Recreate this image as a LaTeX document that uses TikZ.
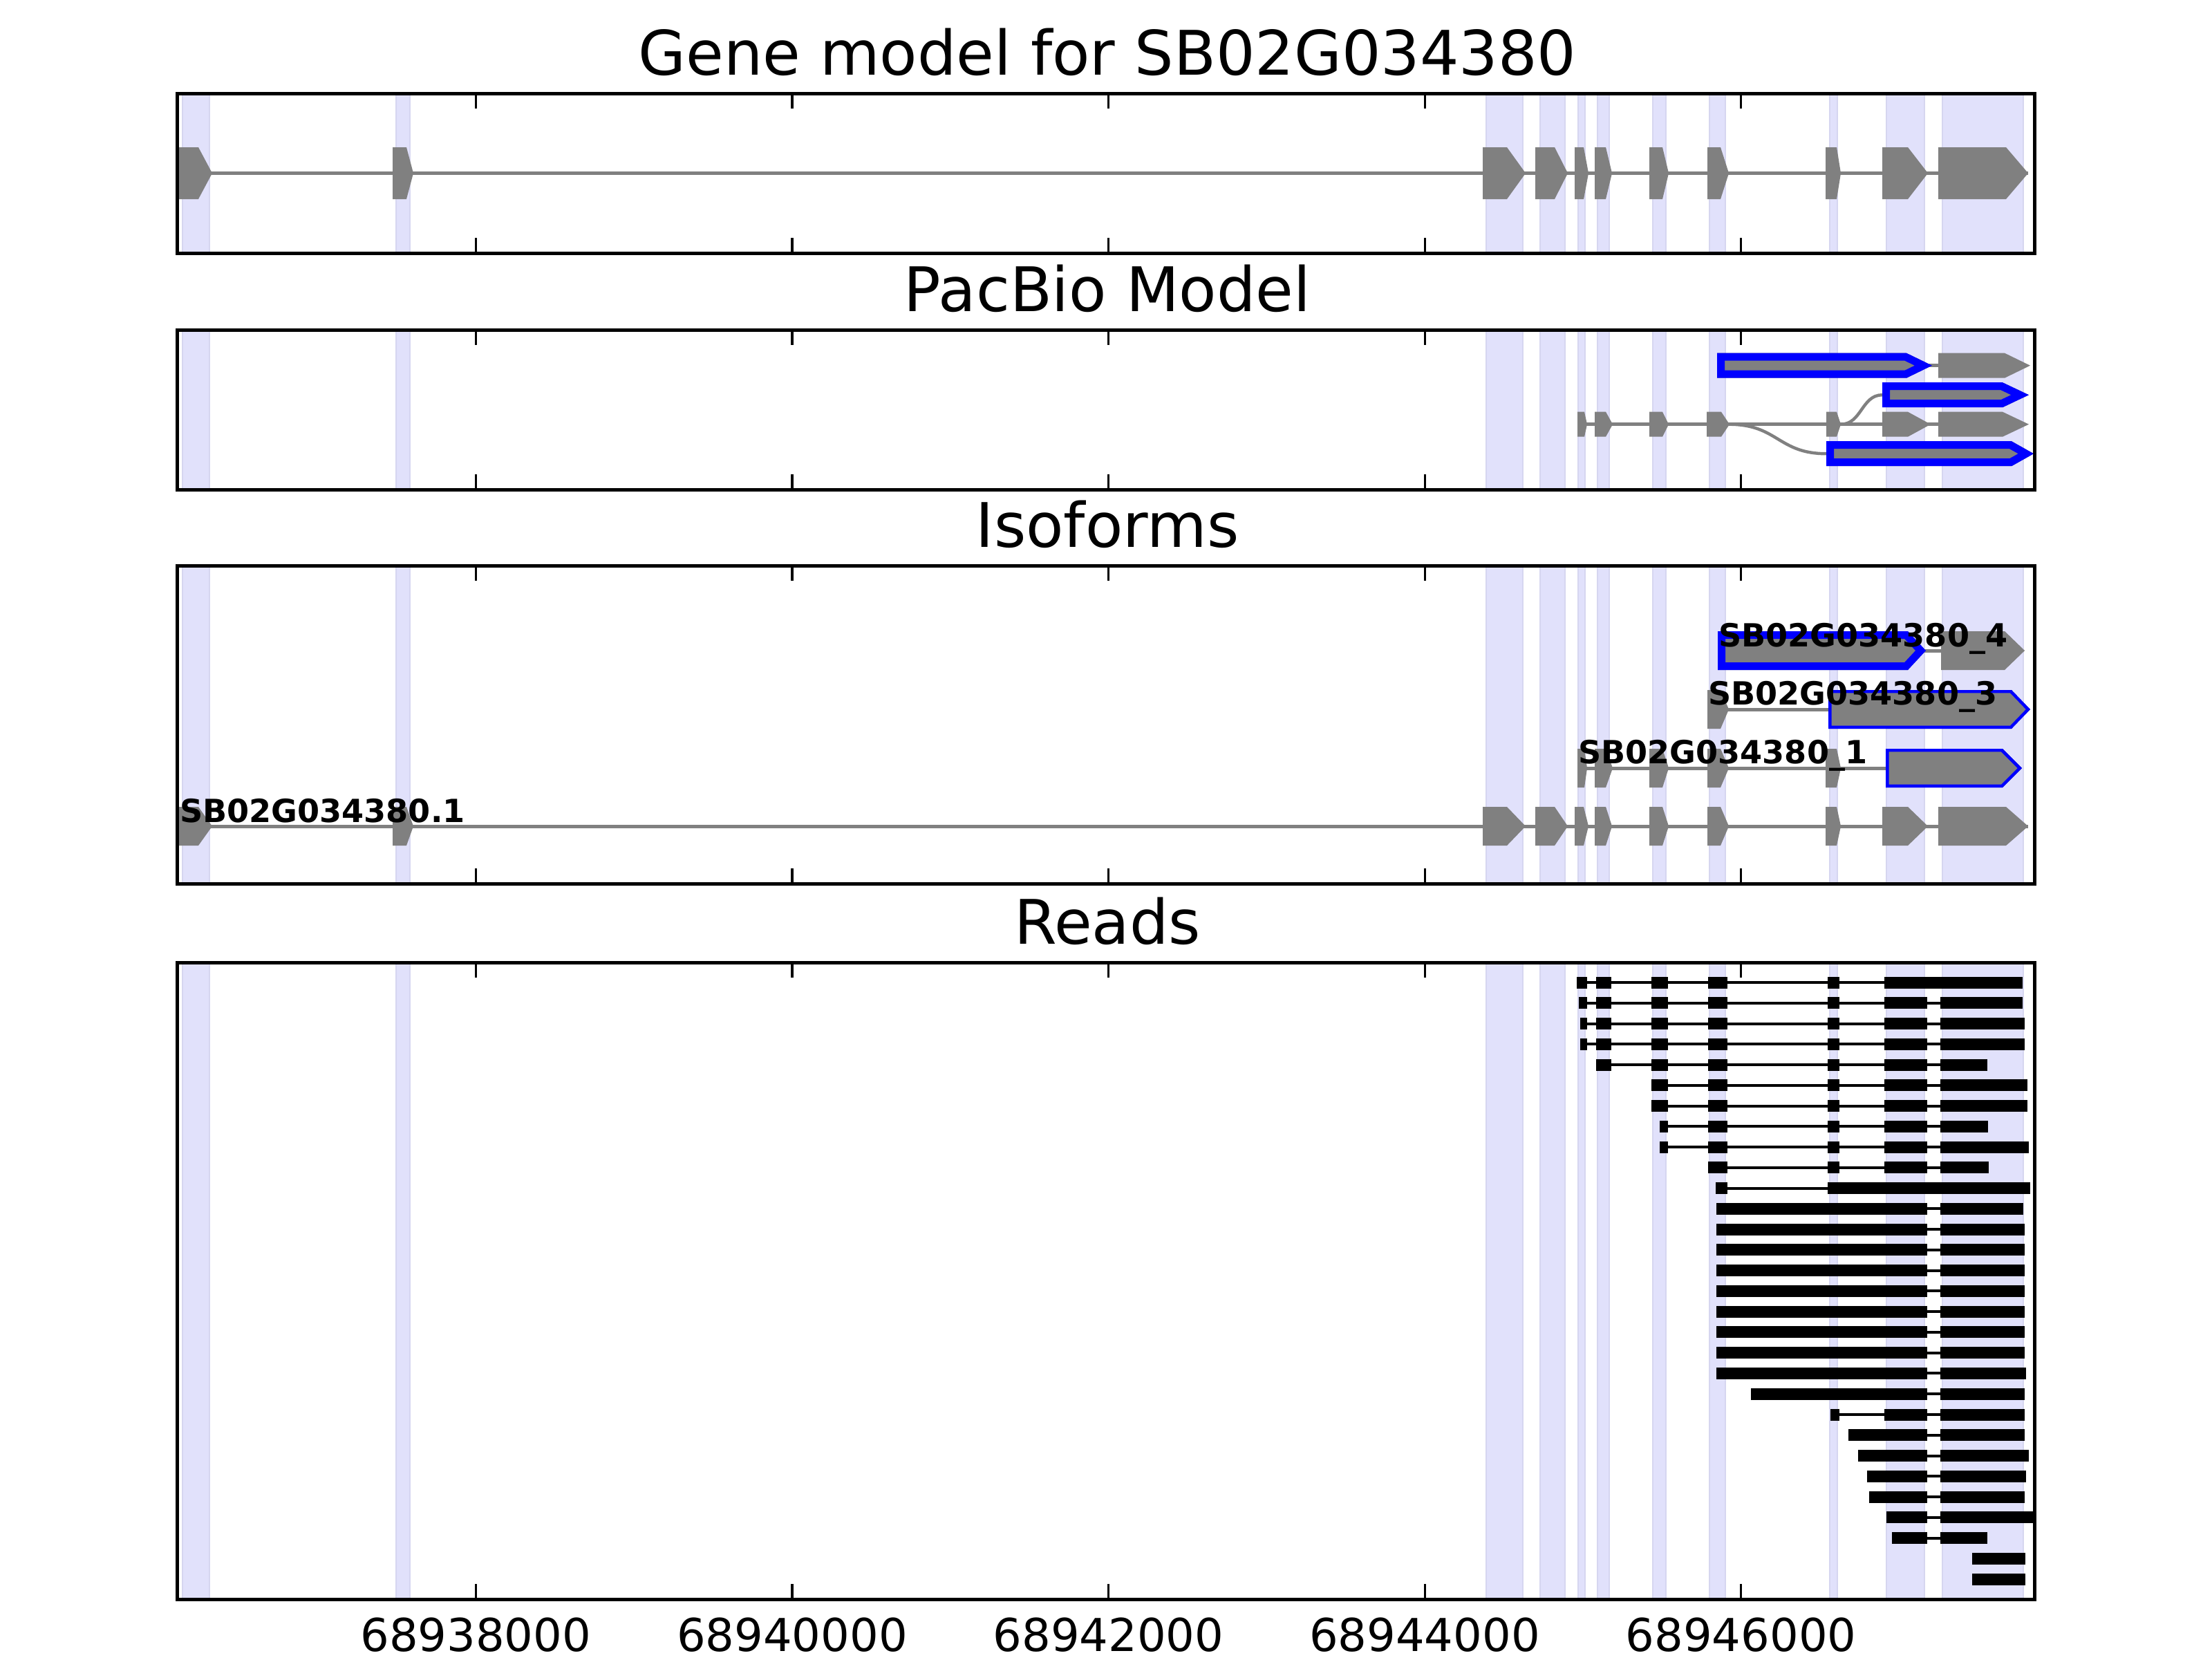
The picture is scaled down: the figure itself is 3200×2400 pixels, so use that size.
\documentclass[tikz,border=0pt]{standalone}
\usepackage{fontspec}
\setmainfont{DejaVu Sans}
\definecolor{band}{RGB}{225,225,251}
\definecolor{bandedge}{RGB}{214,214,240}
\definecolor{exgray}{RGB}{128,128,128}
\tikzset{
  bandstyle/.style={fill=band, draw=bandedge, line width=0.4pt},
  framestyle/.style={draw=black, line width=0.9pt},
  tickmark/.style={draw=black, line width=0.55pt},
  intronln/.style={draw=exgray, line width=#1},
  curveln/.style={draw=exgray, line width=0.8pt},
  readln/.style={draw=black, line width=0.72pt},
  titletext/.style={anchor=base, inner sep=0pt, font=\fontsize{16}{19}\selectfont},
  ticktext/.style={anchor=base, inner sep=0pt, font=\fontsize{11.8}{14}\selectfont},
  isolabel/.style={anchor=base west, inner sep=0pt, font=\bfseries\fontsize{8.3}{10}\selectfont},
}
% gray exon: x0, x1, xtip, cy, half-height
\newcommand{\gex}[5]{\fill[exgray] (#1,#4-#5) -- (#2,#4-#5) -- (#3,#4) -- (#2,#4+#5) -- (#1,#4+#5) -- cycle;}
% blue-outlined exon: x0, x1, xtip, cy, half-height, doubled stroke width
\newcommand{\bex}[6]{%
  \begin{scope}
    \clip (#1,#4-#5) -- (#2,#4-#5) -- (#3,#4) -- (#2,#4+#5) -- (#1,#4+#5) -- cycle;
    \fill[exgray] (#1,#4-#5) -- (#2,#4-#5) -- (#3,#4) -- (#2,#4+#5) -- (#1,#4+#5) -- cycle;
    \draw[blue, line width=#6, line join=miter] (#1,#4-#5) -- (#2,#4-#5) -- (#3,#4) -- (#2,#4+#5) -- (#1,#4+#5) -- cycle;
  \end{scope}}
% full gene model: cy, half-height, intron width
\newcommand{\genemodel}[3]{%
  \draw[intronln=#3] (259,#1) -- (2934,#1);
  \foreach \p/\q/\s in {259/287/307, 568/588/598, 2145/2180/2207, 2221/2249/2268, 2278/2291/2298, 2307/2323/2332, 2386/2405/2414, 2470/2489/2501, 2641/2657/2663, 2723/2760/2789, 2804/2902/2934}
    {\gex{\p}{\q}{\s}{#1}{#2}}}
% read: row index, line start, line end, blocks
\newcommand{\rd}[4]{%
  \pgfmathsetmacro\ry{1421+(#1-1)*29.76}
  \draw[readln] (#2,\ry) -- (#3,\ry);
  \foreach \p/\q in {#4} {\fill[black] (\p,\ry-8.5) rectangle (\q,\ry+8.5);}}
\begin{document}
\begin{tikzpicture}[x=0.18pt,y=-0.18pt]
\useasboundingbox (0,0) rectangle (3200,2400);
\fill[white] (0,0) rectangle (3200,2400);

% shaded exon bands
\foreach \t/\b in {135/366, 477/708, 818/1278, 1392/2313} {
  \foreach \l/\r in {264/303, 573/593, 2150/2203, 2228/2264, 2283/2293, 2311/2328, 2391/2410, 2473/2496, 2647/2658, 2729/2784, 2810/2927}
    {\filldraw[bandstyle] (\l,\t) rectangle (\r,\b);}
}

% ---- Panel 1: gene model
\genemodel{250.5}{37.5}{1.05pt}

% ---- Panel 2: PacBio model
\draw[intronln=0.85pt] (2282,613.7) -- (2804,613.7);
\draw[intronln=0.85pt] (2758,528.7) -- (2804,528.7);
\draw[curveln] (2501,613.7) .. controls (2572,613.7) and (2572,656.2) .. (2642,656.2);
\draw[curveln] (2663,613.7) .. controls (2693,613.7) and (2693,571.2) .. (2723,571.2);
\foreach \p/\q/\s in {2282/2292/2296, 2307/2323/2333, 2386/2405/2414, 2469/2490/2502, 2642/2657/2663, 2723/2760/2793, 2804/2897/2935}
  {\gex{\p}{\q}{\s}{613.7}{18}}
\gex{2804}{2900}{2937}{528.7}{18}
\bex{2484}{2758}{2795}{528.7}{18}{3.96pt}
\bex{2723}{2897}{2935}{571.2}{18}{3.96pt}
\bex{2642}{2910}{2942}{656.2}{18}{3.96pt}

% ---- Panel 3: isoforms
\draw[intronln=0.9pt] (2760,941) -- (2808,941);
\bex{2485}{2760}{2786}{941}{28}{3.96pt}
\gex{2808}{2900}{2929}{941}{28}
\draw[intronln=0.9pt] (2470,1026) -- (2645,1026);
\gex{2470}{2489}{2501}{1026}{28}
\bex{2645}{2910}{2937}{1026}{28}{1.6pt}
\draw[intronln=0.9pt] (2282,1111) -- (2728,1111);
\foreach \p/\q/\s in {2282/2292/2296, 2307/2323/2333, 2386/2405/2414, 2470/2489/2501, 2641/2657/2663}
  {\gex{\p}{\q}{\s}{1111}{28}}
\bex{2728}{2897}{2925}{1111}{28}{1.6pt}
\genemodel{1195}{28}{0.9pt}
\node[isolabel] (l4) at (2485,935) {SB02G034380\_4};
\node[isolabel] (l3) at (2470,1019.5) {SB02G034380\_3};
\node[isolabel] (l1) at (2282,1104) {SB02G034380\_1};
\node[isolabel] (l0) at (259,1189) {SB02G034380.1};

% ---- Panel 4: reads
\rd{1}{2281}{2926}{2281/2296, 2309/2331, 2389/2413, 2471/2499, 2644/2661, 2726/2926}
\rd{2}{2284}{2926}{2284/2296, 2309/2331, 2389/2413, 2471/2499, 2644/2661, 2726/2788, 2807/2926}
\rd{3}{2286}{2929}{2286/2296, 2309/2331, 2389/2413, 2471/2499, 2644/2661, 2726/2788, 2807/2929}
\rd{4}{2286}{2929}{2286/2296, 2309/2331, 2389/2413, 2471/2499, 2644/2661, 2726/2788, 2807/2929}
\rd{5}{2309}{2875}{2309/2331, 2389/2413, 2471/2499, 2644/2661, 2726/2788, 2807/2875}
\rd{6}{2389}{2933}{2389/2413, 2471/2499, 2644/2661, 2726/2788, 2807/2933}
\rd{7}{2389}{2933}{2389/2413, 2471/2499, 2644/2661, 2726/2788, 2807/2933}
\rd{8}{2401}{2876}{2401/2413, 2471/2499, 2644/2661, 2726/2788, 2807/2876}
\rd{9}{2401}{2935}{2401/2413, 2471/2499, 2644/2661, 2726/2788, 2807/2935}
\rd{10}{2471}{2877}{2471/2499, 2644/2661, 2726/2788, 2807/2877}
\rd{11}{2482}{2937}{2482/2499, 2644/2937}
\rd{12}{2483}{2927}{2483/2788, 2807/2927}
\foreach \i in {13,...,19} {\rd{\i}{2483}{2929}{2483/2788, 2807/2929}}
\rd{20}{2483}{2931}{2483/2788, 2807/2931}
\rd{21}{2533}{2929}{2533/2788, 2807/2929}
\rd{22}{2648}{2929}{2648/2661, 2726/2788, 2807/2929}
\rd{23}{2674}{2929}{2674/2788, 2807/2929}
\rd{24}{2688}{2935}{2688/2788, 2807/2935}
\rd{25}{2701}{2931}{2701/2788, 2807/2931}
\rd{26}{2704}{2929}{2704/2788, 2807/2929}
\rd{27}{2729}{2941}{2729/2788, 2807/2941}
\rd{28}{2737}{2875}{2737/2788, 2807/2875}
\rd{29}{2853}{2930}{2853/2930}
\rd{30}{2853}{2930}{2853/2930}

% ---- frames, ticks, titles
\foreach \t/\b/\name/\ttl in {135/366/t1/Gene model for SB02G034380, 477/708/t2/PacBio Model, 818/1278/t3/Isoforms, 1392/2313/t4/Reads} {
  \draw[framestyle] (256,\t) rectangle (2943,\b);
  \foreach \x in {688.3, 1146, 1603.5, 2061, 2518.7} {
    \draw[tickmark] (\x,\t) -- (\x,\t+22);
    \draw[tickmark] (\x,\b) -- (\x,\b-22);
  }
  \node[titletext] (\name) at (1602,\t-26.5) {\ttl};
}
\foreach \x/\lab in {688.3/68938000, 1146/68940000, 1603.5/68942000, 2061/68944000, 2518.7/68946000}
  {\node[ticktext] (tick\lab) at (\x,2388) {\lab};}
\end{tikzpicture}
\end{document}
